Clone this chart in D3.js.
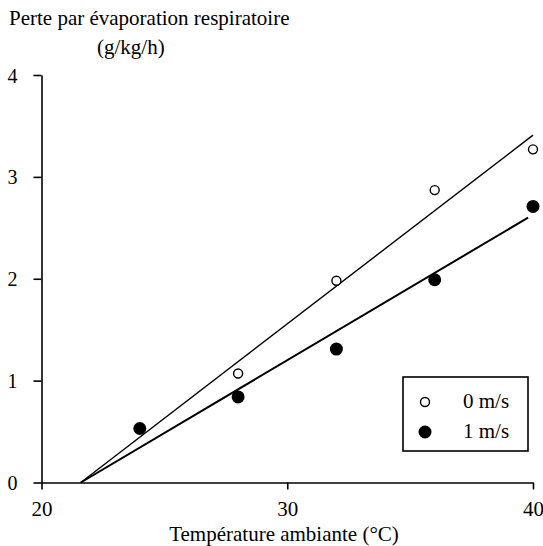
<!DOCTYPE html>
<html>
<head>
<meta charset="utf-8">
<script src="https://cdn.jsdelivr.net/npm/d3@7"></script>
<style>
  body { margin: 0; background: #fff; }
  svg { font-family: "Liberation Serif", "Times New Roman", serif; }
</style>
</head>
<body>
<div id="chart"></div>
<script>
// DATA
const temps = [24, 28, 32, 36, 40];
const loss0 = [0.53, 1.07, 1.98, 2.87, 3.27];   // 0 m/s (open circles)
const loss1 = [0.53, 0.84, 1.31, 1.99, 2.71];   // 1 m/s (filled circles)
const fit0X = [21.6, 40], fit0Y = [0, 3.41];
const fit1X = [21.6, 39.8], fit1Y = [0, 2.60];
const xTicks = [20, 30, 40];
const yTicks = [0, 1, 2, 3, 4];
const legendLabels = ["0 m/s", "1 m/s"];

const W = 543, H = 546;

const svg = d3.select("#chart").append("svg")
    .attr("width", W)
    .attr("height", H);

// SCALES
const x = d3.scaleLinear().domain([20, 40]).range([41.5, 533]);
const y = d3.scaleLinear().domain([0, 4]).range([482.5, 75]);

// AXES
const xAxis = svg.append("g")
    .attr("transform", `translate(0,${y(0)})`)
    .call(d3.axisBottom(x).tickValues(xTicks).tickSize(7).tickSizeOuter(0).tickFormat(d3.format("d")));
xAxis.selectAll("text").attr("dy", 0).attr("y", 33).style("font-size", "21px");

const yAxis = svg.append("g")
    .attr("transform", `translate(${x(20)},0)`)
    .call(d3.axisLeft(y).tickValues(yTicks).tickSize(8).tickSizeOuter(0).tickFormat(d3.format("d")));
yAxis.selectAll("text").attr("x", -24).attr("dy", "0.35em").style("font-size", "20px");

svg.selectAll(".domain, .tick line").attr("stroke", "#000").attr("stroke-width", 1.6);
svg.selectAll(".tick text").attr("fill", "#000").style("font-family", "Liberation Serif, serif");

// REGRESSION LINES
const line = d3.line().x(d => x(d[0])).y(d => y(d[1]));
svg.append("path")
    .datum(d3.zip(fit0X, fit0Y))
    .attr("d", line)
    .attr("fill", "none").attr("stroke", "#000").attr("stroke-width", 1.4);
svg.append("path")
    .datum(d3.zip(fit1X, fit1Y))
    .attr("d", line)
    .attr("fill", "none").attr("stroke", "#000").attr("stroke-width", 2);

// POINTS
svg.selectAll("circle.open")
    .data(d3.zip(temps, loss0))
    .join("circle")
    .attr("class", "open")
    .attr("cx", d => x(d[0])).attr("cy", d => y(d[1]))
    .attr("r", 4.5)
    .attr("fill", "#fff").attr("stroke", "#000").attr("stroke-width", 1.4);

svg.selectAll("circle.filled")
    .data(d3.zip(temps, loss1))
    .join("circle")
    .attr("class", "filled")
    .attr("cx", d => x(d[0])).attr("cy", d => y(d[1]))
    .attr("r", 6.5)
    .attr("fill", "#000");

// LEGEND
const legend = svg.append("g");
legend.append("rect")
    .attr("x", 403).attr("y", 377).attr("width", 125).attr("height", 74)
    .attr("fill", "#fff").attr("stroke", "#000").attr("stroke-width", 1.6);
legendLabels.forEach((lab, i) => {
    const cy = 402 + i * 30;
    if (i === 0) {
        legend.append("circle").attr("cx", 425).attr("cy", cy).attr("r", 4.5)
            .attr("fill", "#fff").attr("stroke", "#000").attr("stroke-width", 1.4);
    } else {
        legend.append("circle").attr("cx", 425).attr("cy", cy).attr("r", 6.5).attr("fill", "#000");
    }
    legend.append("text")
        .attr("x", 463).attr("y", cy + 6)
        .style("font-size", "21px")
        .text(lab);
});

// LABELS
svg.append("text")
    .attr("x", 9).attr("y", 25)
    .style("font-size", "21px")
    .text("Perte par évaporation respiratoire");
svg.append("text")
    .attr("x", 97).attr("y", 54)
    .style("font-size", "21px")
    .text("(g/kg/h)");
svg.append("text")
    .attr("x", 284).attr("y", 541)
    .attr("text-anchor", "middle")
    .style("font-size", "21px")
    .text("Température ambiante (°C)");
</script>
</body>
</html>
